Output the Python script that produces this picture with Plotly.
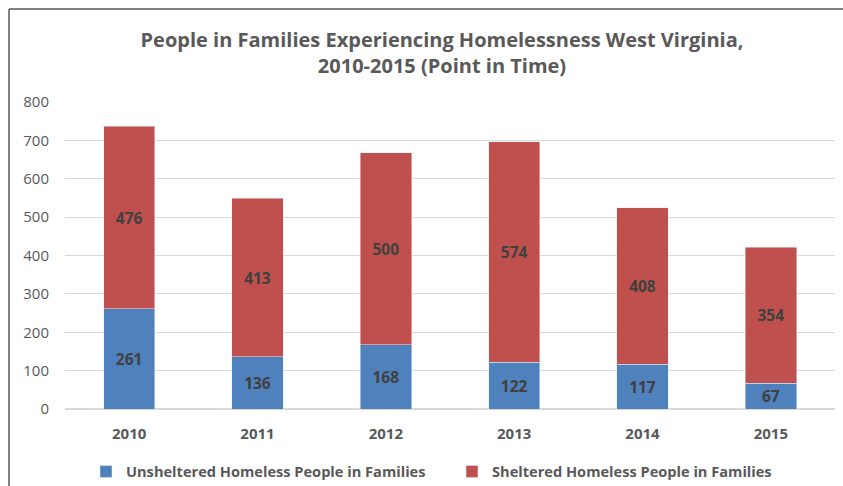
import plotly.graph_objects as go

years = ["2010", "2011", "2012", "2013", "2014", "2015"]
unsheltered = [261, 136, 168, 122, 117, 67]
sheltered = [476, 413, 500, 574, 408, 354]
y_ticks = [0, 100, 200, 300, 400, 500, 600, 700, 800]

BLUE = "#4F81BD"
RED = "#C0504D"
FONT = "Open Sans"
GREY_TEXT = "#595959"
LABEL_TEXT = "#404040"

label_font = dict(family=FONT, size=15.5, color=LABEL_TEXT, weight="bold")

fig = go.Figure()
fig.add_trace(go.Bar(
    name="Unsheltered Homeless People in Families",
    x=years, y=unsheltered, marker_color=BLUE,
    text=unsheltered, textposition="inside", insidetextanchor="middle",
    textangle=0, textfont=label_font,
))
fig.add_trace(go.Bar(
    name="Sheltered Homeless People in Families",
    x=years, y=sheltered, marker_color=RED,
    text=sheltered, textposition="inside", insidetextanchor="middle",
    textangle=0, textfont=label_font,
))

# plot area spans pixels x 65..835, y 102..409
plot_l, plot_r, plot_t, plot_b = 65, 835, 102, 409
pw, ph = plot_r - plot_l, plot_b - plot_t
def px_x(x):
    return (x - plot_l) / pw
def px_y(y):
    return (plot_b - y) / ph

fig.update_layout(
    barmode="stack",
    bargap=0.6,
    width=843, height=486,
    margin=dict(l=plot_l, r=843 - plot_r, t=plot_t, b=486 - plot_b, autoexpand=False),
    paper_bgcolor="white", plot_bgcolor="white",
    font=dict(family=FONT, color=GREY_TEXT),
    title=dict(
        text="People in Families Experiencing Homelessness West Virginia,<br>2010-2015 (Point in Time)",
        x=442 / 843, xanchor="center", y=1 - 46.5 / 486, yanchor="middle",
        font=dict(family=FONT, size=20, color=GREY_TEXT, weight="bold"),
    ),
    uniformtext=dict(mode="show", minsize=15.5),
    showlegend=True,
    legend=dict(
        orientation="h", xref="container", yref="container",
        x=86 / 843, xanchor="left", y=1 - 471.5 / 486, yanchor="middle",
        font=dict(family=FONT, size=14.6, color=GREY_TEXT, weight="bold"),
        itemwidth=30, traceorder="normal", entrywidth=321,
    ),
    xaxis=dict(
        showgrid=False, showline=False, ticks="",
        tickfont=dict(family=FONT, size=15, color=GREY_TEXT, weight="bold"),
        ticklabelstandoff=14,
    ),
    yaxis=dict(
        range=[0, 800], tickvals=y_ticks, showgrid=True,
        gridcolor="#D9D9D9", gridwidth=1, zeroline=True, zerolinecolor="#D9D9D9",
        tickfont=dict(family=FONT, size=15, color=GREY_TEXT),
        ticklabelstandoff=15,
    ),
    shapes=[
        # frame lines along the top and left edges
        dict(type="line", xref="paper", yref="paper",
             x0=px_x(9), x1=px_x(850), y0=px_y(9), y1=px_y(9),
             line=dict(color="#808080", width=2)),
        dict(type="line", xref="paper", yref="paper",
             x0=px_x(9), x1=px_x(9), y0=px_y(9), y1=px_y(495),
             line=dict(color="#808080", width=2)),
    ],
)

fig.write_html("out.html")
